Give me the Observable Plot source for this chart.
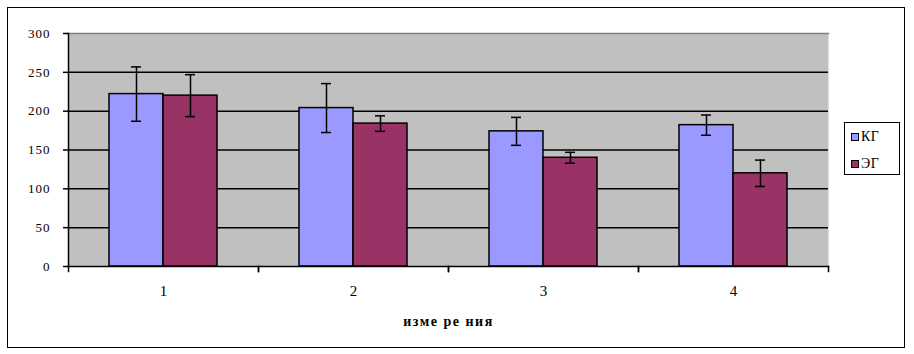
<!DOCTYPE html>
<html><head><meta charset="utf-8">
<script src="https://cdn.jsdelivr.net/npm/d3@7"></script>
<script src="https://cdn.jsdelivr.net/npm/@observablehq/plot@0.6"></script>
<style>
body{margin:0;background:#fff;}
#wrap{position:relative;width:914px;height:354px;}
#border{position:absolute;left:7px;top:7px;width:898px;height:341px;border:1.5px solid #000;box-sizing:border-box;pointer-events:none;}
#legend{position:absolute;left:844px;top:122px;width:56px;height:53px;border:1px solid #000;background:#fff;box-sizing:border-box;font-family:"Liberation Serif",serif;font-size:14px;color:#000;}
.item{position:absolute;left:6px;height:14px;line-height:14px;white-space:nowrap;letter-spacing:0.5px;}
.sw{display:inline-block;width:8px;height:8px;border:1px solid #000;box-sizing:border-box;vertical-align:middle;margin-right:2px;position:relative;top:-1px;}
#chart svg text{font-family:"Liberation Serif",serif;fill:#000;}
#chart svg g[aria-label="y-axis tick label"] text{font-size:13px;letter-spacing:1px;}
#chart svg g[aria-label="fx-axis tick label"] text{font-size:15px;}
#chart svg text.title{font-size:14px;font-weight:bold;letter-spacing:1.5px;}
</style>
</head><body>
<div id="wrap"><div id="chart"></div><div id="legend"></div><div id="border"></div></div>
<script>
const categories = ["1", "2", "3", "4"];
const series = ["КГ", "ЭГ"];
const seriesColors = ["#9999ff", "#993366"];
const kgValues = [222, 204, 174, 182];
const kgErrors = [35, 31.5, 18, 13];
const egValues = [220, 184, 140, 120];
const egErrors = [27, 10, 7, 17];
const yTicks = [0, 50, 100, 150, 200, 250, 300];
const gridValues = [50, 100, 150, 200, 250];
const xTitle = "изме ре ния";

const data = categories.flatMap((c, i) => [
  {cat: c, series: series[0], value: kgValues[i], err: kgErrors[i]},
  {cat: c, series: series[1], value: egValues[i], err: egErrors[i]}
]);

const W = 914, H = 354, mT = 33, mB = 88, mL = 67, mR = 85;
const plotH = H - mT - mB;

const chart = Plot.plot({
  width: W, height: H,
  marginTop: mT, marginBottom: mB, marginLeft: mL, marginRight: mR,
  style: "background: transparent; color: #000;",
  fx: {domain: categories, padding: 0, label: null},
  x: {domain: series, paddingInner: 0, paddingOuter: 0.75, axis: null},
  y: {domain: [0, 300], label: null},
  color: {domain: series, range: seriesColors},
  marks: [
    Plot.frame({facet: "super", fill: "#c0c0c0", stroke: "none"}),
    Plot.frame({facet: "super", anchor: "top", stroke: "#808080", strokeWidth: 1.5}),
    Plot.ruleY(gridValues, {stroke: "#000", strokeWidth: 1.5}),
    Plot.barY(data, {fx: "cat", x: "series", y: "value", fill: "series", stroke: "#000", strokeWidth: 1.5}),
    Plot.ruleX(data, {fx: "cat", x: "series", y1: d => d.value - d.err, y2: d => d.value + d.err, stroke: "#000", strokeWidth: 1.5}),
    Plot.tickY(data, {fx: "cat", x: "series", y: d => d.value - d.err, stroke: "#000", strokeWidth: 1.5, insetLeft: 22, insetRight: 22}),
    Plot.tickY(data, {fx: "cat", x: "series", y: d => d.value + d.err, stroke: "#000", strokeWidth: 1.5, insetLeft: 22, insetRight: 22}),
    Plot.frame({facet: "super", anchor: "left", stroke: "#000", strokeWidth: 1.5}),
    Plot.frame({facet: "super", anchor: "bottom", stroke: "#000", strokeWidth: 1.5}),
    Plot.frame({anchor: "left", stroke: "#000", strokeWidth: 1.5, insetTop: plotH, insetBottom: -5}),
    Plot.frame({anchor: "right", stroke: "#000", strokeWidth: 1.5, insetTop: plotH, insetBottom: -5}),
    Plot.axisY({ticks: yTicks, tickSize: 5, tickPadding: 13, label: null, stroke: "#000", strokeWidth: 1.5}),
    Plot.axisFx({anchor: "bottom", tickSize: 0, tickPadding: 19, label: null}),
    Plot.text([xTitle], {facet: "super", frameAnchor: "bottom", dy: 55, lineAnchor: "middle"})
  ]
});
document.getElementById("chart").appendChild(chart);
chart.querySelectorAll("text").forEach(t => { if (t.textContent === xTitle) t.classList.add("title"); });

const legend = document.getElementById("legend");
series.forEach((s, i) => {
  const it = document.createElement("div");
  it.className = "item";
  it.style.top = (7 + i * 27) + "px";
  it.innerHTML = `<span class="sw" style="background:${seriesColors[i]}"></span>${s}`;
  legend.appendChild(it);
});
</script>
</body></html>
